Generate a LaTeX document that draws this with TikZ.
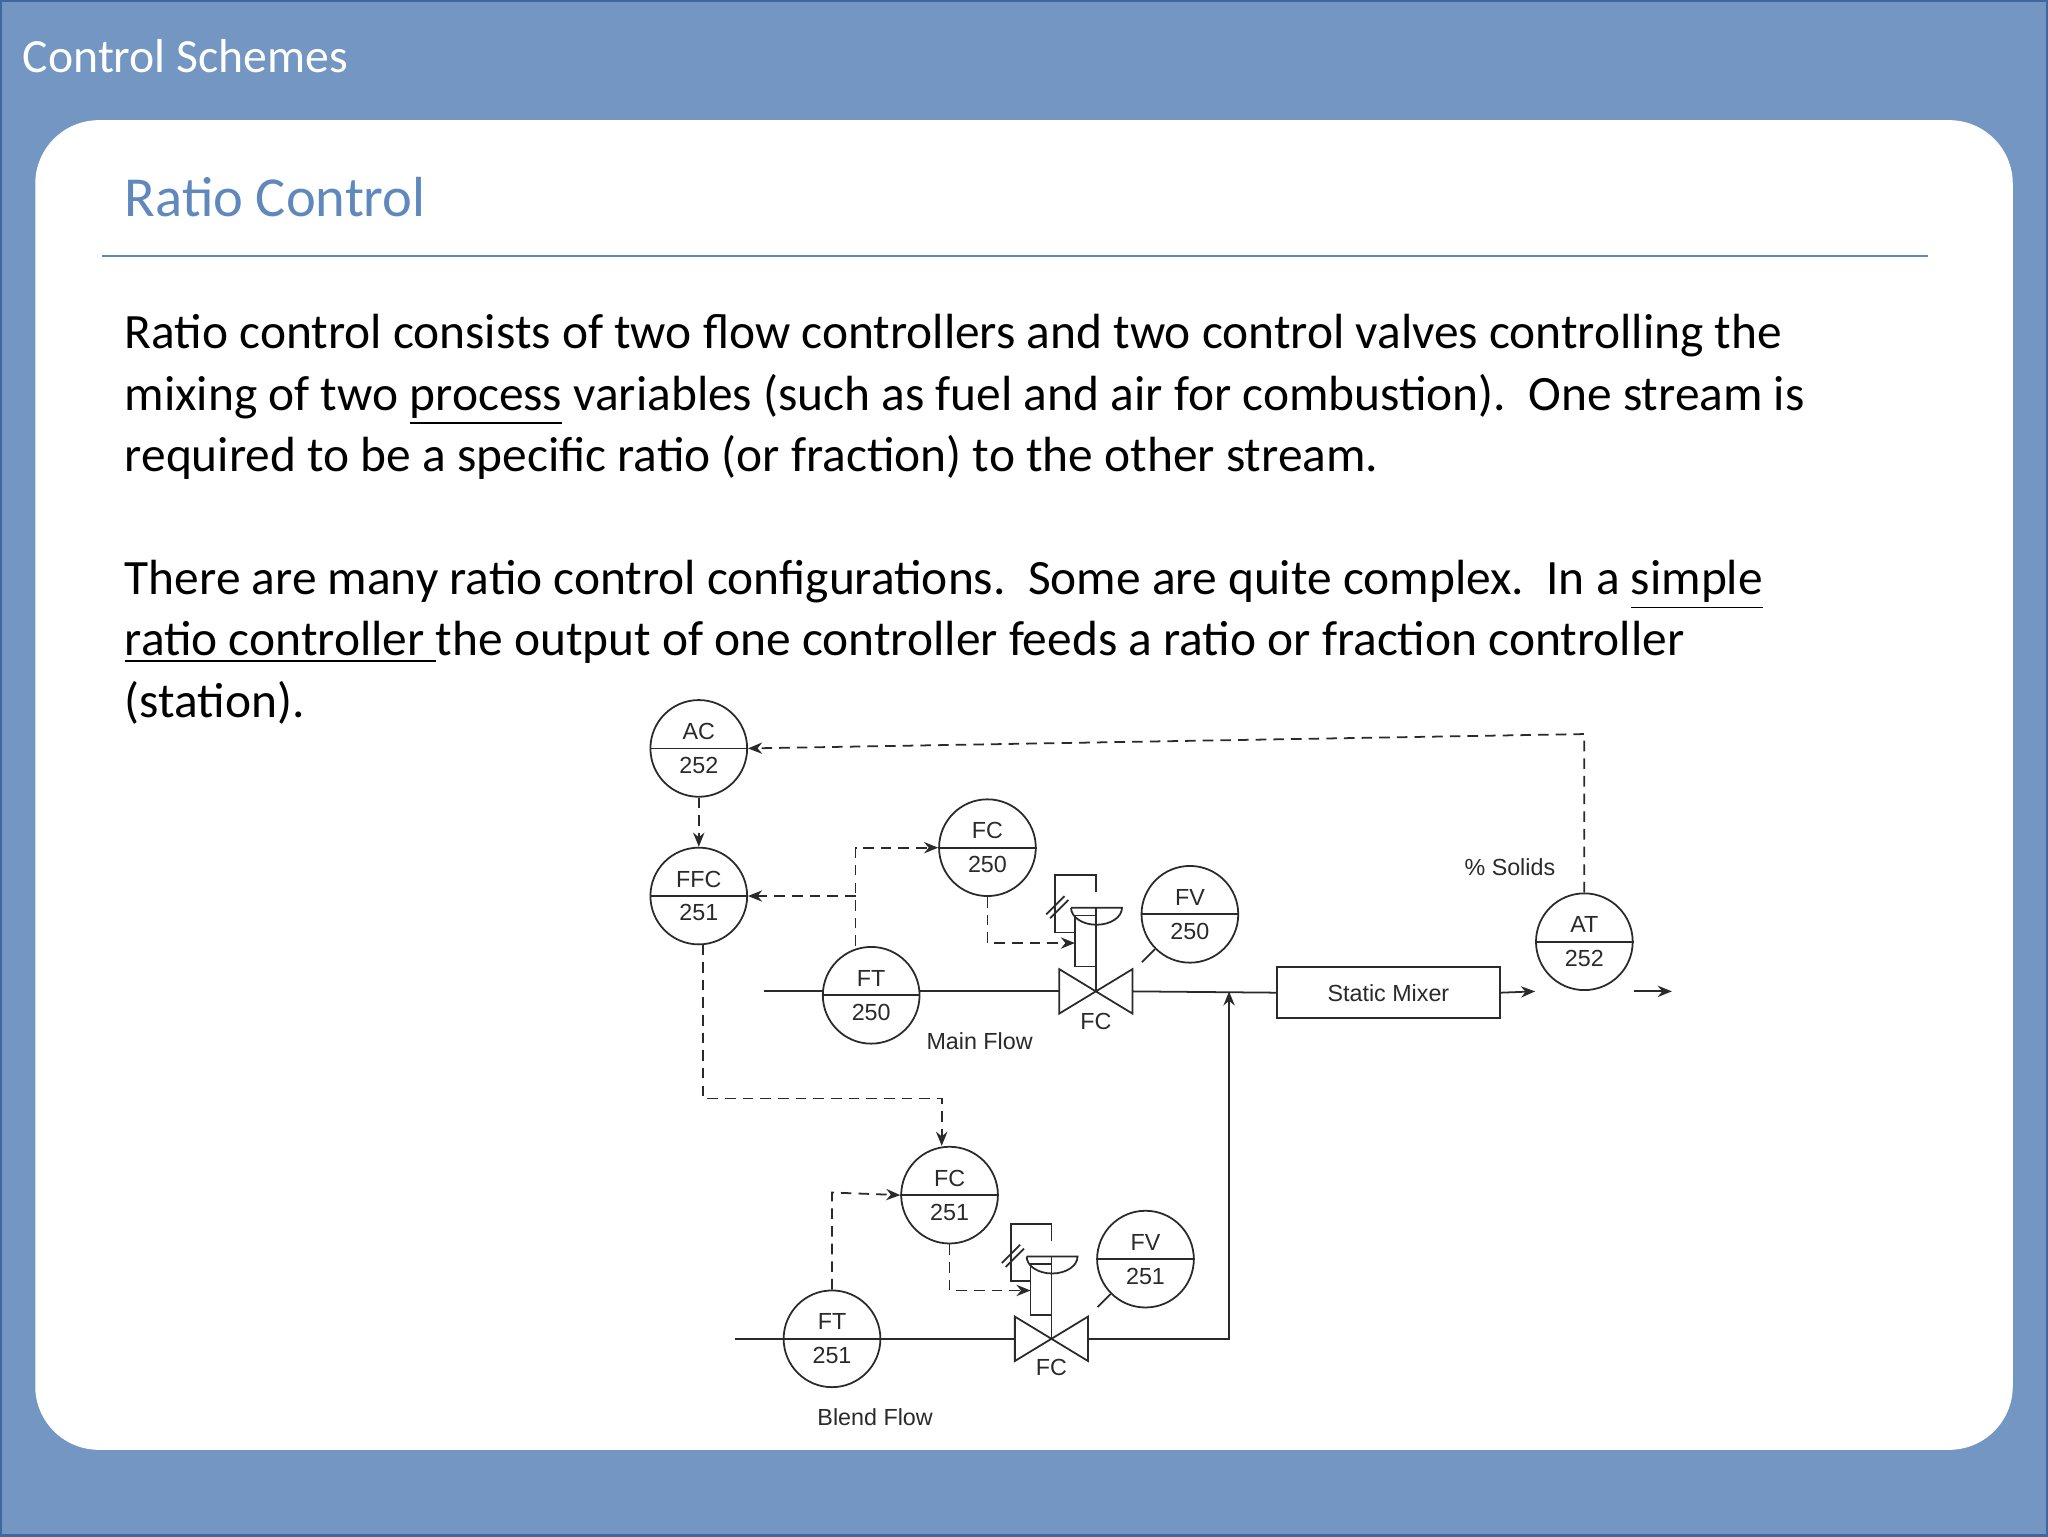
\documentclass[tikz,border=0pt]{standalone}
\usepackage{fontspec}
\setmainfont{Carlito}
\newfontfamily\diag{Liberation Sans}
\usetikzlibrary{arrows.meta}
\definecolor{bgblue}{HTML}{7396C2}
\definecolor{edgeblue}{HTML}{41689A}
\definecolor{titleblue}{HTML}{5F88BD}
\definecolor{ink}{HTML}{2A2A2A}
\tikzset{
 inst/.style={draw=ink,line width=0.5pt,circle,minimum size=27.4pt,inner sep=0pt,fill=white},
 dlab/.style={font=\diag\fontsize{6.6}{7}\selectfont,text=ink,inner sep=0pt},
 pipe/.style={draw=ink,line width=0.5pt},
 sig/.style={draw=ink,line width=0.5pt,dash pattern=on 3pt off 2pt},
 arr/.style={-{Stealth[length=4pt,width=3.2pt]}},
 body/.style={font=\fontsize{14}{17}\selectfont,anchor=base west,inner sep=0pt,text=black},
}
\newcommand{\instr}[4]{%
 \node[inst] (#1) at (#2) {};
 \draw[ink,line width=0.5pt] (#1.west)--(#1.east);
 \node[dlab] at ([yshift=4.8pt]#1.center) {#3};
 \node[dlab] at ([yshift=-4.8pt]#1.center) {#4};}
\begin{document}
\begin{tikzpicture}[x=0.37pt,y=-0.37pt]
\useasboundingbox (0,0) rectangle (1568,1176);
\fill[bgblue] (0,0) rectangle (1568,1176);
\draw[edgeblue,line width=1pt] (0.5,0.5) rectangle (1567.5,1175.5);
\node[anchor=west,text=white,font=\fontsize{13.5}{16}\selectfont,inner sep=0pt] (hdr) at (17,43) {Control Schemes};
\fill[white,rounded corners=18pt] (27,92) rectangle (1541,1110);
\node[anchor=west,text=titleblue,font=\fontsize{16}{19}\selectfont,inner sep=0pt] (ttl) at (95,151) {Ratio Control};
\draw[titleblue,line width=0.6pt] (78,196)--(1476,196);
\node[body] (l1) at (95,267) {Ratio control consists of two flow controllers and two control valves controlling the};
\node[body] (l2) at (95,314) {mixing of two \underline{process} variables (such as fuel and air for combustion).\ \ One stream is};
\node[body] (l3) at (95,361) {required to be a specific ratio (or fraction) to the other stream.};
\node[body] (l4) at (95,455) {There are many ratio control configurations.\ \ Some are quite complex.\ \ In a \underline{simple}};
\node[body] (l5) at (95,502) {\underline{ratio controller }the output of one controller feeds a ratio or fraction controller};
\node[body] (l6) at (95,549) {(station).};

% instruments
\instr{AC}{535,573}{AC}{252}
\instr{FFC}{535,686}{FFC}{251}
\instr{FCa}{756,649}{FC}{250}
\instr{FVa}{911,700}{FV}{250}
\instr{FTa}{667,762}{FT}{250}
\instr{AT}{1213,721}{AT}{252}
\instr{FCb}{727,915}{FC}{251}
\instr{FVb}{877,964}{FV}{251}
\instr{FTb}{637,1025}{FT}{251}

% main flow
\coordinate (ms) at (585,759);
\coordinate (v1) at (839,759);
\coordinate (me) at (1280,759);
\coordinate (jn) at (941,759);
\node[draw=ink,line width=0.5pt,minimum width=63.3pt,minimum height=14.4pt,inner sep=0pt,dlab] (SM) at (1063,760) {Static Mixer};
\draw[pipe] (ms)--(FTa.west|-ms);
\draw[pipe] (FTa.east|-ms)--(811,759);
\draw[pipe] (867,759)--(SM.west);
\draw[pipe,arr] (SM.east)--(AT.west|-me);
\draw[pipe,arr] (AT.east|-me)--(me);
\draw[pipe] (811,742)--(867,776)--(867,742)--(811,776)--cycle;
% actuator 1
\draw[pipe] (v1)--(839,695);
\draw[pipe] (820,695)--(859,695) arc[start angle=0,end angle=180,x radius=19.5,y radius=13];
\draw[pipe] (823,701) rectangle (839,740);
\draw[pipe] (839,683)--(839,670)--(808,670)--(808,714)--(823,714);
\draw[pipe] (801,700)--(815,686) (804,703)--(818,689);
\draw[pipe] (FVa.225)--+(-10,10);
\node[dlab] (fc1) at (839,782) {FC};
\node[dlab] (mf) at (750,797) {Main Flow};
\node[dlab] (ps) at (1156,664) {\% Solids};

% blend flow
\coordinate (bs) at (563,1025);
\coordinate (v2) at (805,1025);
\draw[pipe] (bs)--(FTb.west|-bs);
\draw[pipe] (FTb.east|-bs)--(777,1025);
\draw[pipe,arr] (833,1025)--(941,1025)--(jn);
\draw[pipe] (777,1008)--(833,1042)--(833,1008)--(777,1042)--cycle;
\draw[pipe] (v2)--(805,962);
\draw[pipe] (786,962)--(825,962) arc[start angle=0,end angle=180,x radius=19.5,y radius=13];
\draw[pipe] (789,968) rectangle (805,1007);
\draw[pipe] (805,950)--(805,937)--(774,937)--(774,981)--(789,981);
\draw[pipe] (767,967)--(781,953) (770,970)--(784,956);
\draw[pipe] (FVb.225)--+(-10,10);
\node[dlab] (fc2) at (805,1047) {FC};
\node[dlab] (bf) at (670,1085) {Blend Flow};

% signals
\draw[sig,arr] (AC.south)--(FFC.north);
\draw[sig,arr] (AT.north)--(1213,562)--(AC.east);
\draw[sig,arr] (FTa.north-|655,0)--(655,649)--(FCa.west);
\draw[sig,arr] (655,686)--(FFC.east);
\draw[sig,arr] (FCa.south)--(756,722)--(823,722);
\draw[sig,arr] (538,723)--(538,841)--(721,841)--(FCb.north-|721,0);
\draw[sig,arr] (FTb.north)--(637,913)--(FCb.west);
\draw[sig,arr] (FCb.south)--(727,988)--(789,988);
\end{tikzpicture}
\end{document}
